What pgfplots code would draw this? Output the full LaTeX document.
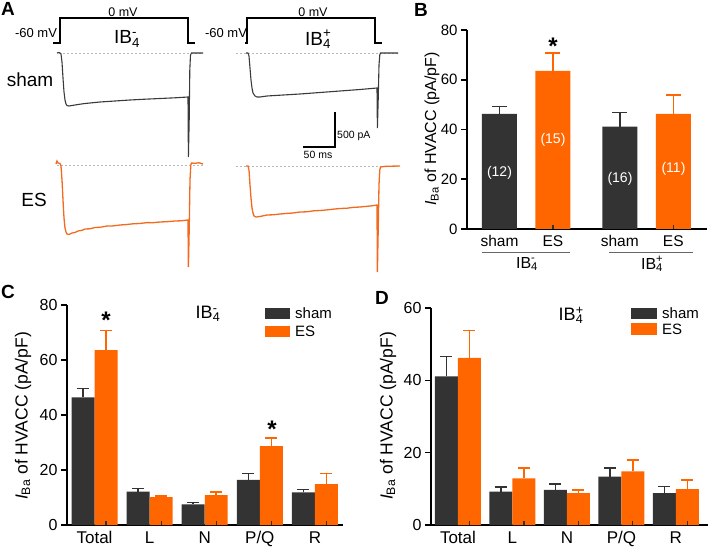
\documentclass[border=0pt]{standalone}
\usepackage{fontspec}
\setmainfont{Liberation Sans}
\usepackage{pgfplots}
\usepackage{pgfplotstable}
\pgfplotsset{compat=1.18}
\definecolor{shamc}{HTML}{333333}
\definecolor{esc}{HTML}{FF6600}
\definecolor{trsham}{HTML}{3A3A3A}
\definecolor{tres}{HTML}{F36A1E}
\newcommand{\fs}[1]{\fontsize{#1bp}{#1bp}\selectfont}
\newcommand{\IB}[1]{IB\rlap{\textsuperscript{#1}}\textsubscript{4}}
\newcommand{\IBa}{\textit{I}\textsubscript{Ba} of HVACC (pA/pF)}

% Panel C data: group index, mean, SEM
\pgfplotstableread{
x m e
0 46.4 3.3
1 12.1 1.2
2 7.5 0.7
3 16.4 2.4
4 11.9 1.0
}\Csham
\pgfplotstableread{
x m e
0 63.6 7.1
1 10.1 0.4
2 10.9 1.2
3 28.7 3.0
4 14.9 3.9
}\Ces
% Panel D data
\pgfplotstableread{
x m e
0 41.1 5.5
1 9.2 1.3
2 9.7 1.6
3 13.4 2.3
4 8.8 1.8
}\Dsham
\pgfplotstableread{
x m e
0 46.2 7.6
1 12.9 2.8
2 8.8 0.9
3 14.8 3.2
4 9.9 2.6
}\Des

\pgfplotsset{
  barax/.style={scale only axis, clip=false, axis lines=left,
    axis line style={-, line width=1.6bp, black}, ymin=0,
    tick align=outside, major tick length=6bp,
    /pgf/number format/assume math mode=true,
    yticklabel style={font=\fs{15}},
    ytick style={line width=1.6bp, black},
    x tick style={draw=none}},
  shambar/.style={ybar, bar width=#1, fill=shamc, draw=none,
    error bars/.cd, y dir=plus, y explicit,
    error bar style={shamc, line width=1.6bp},
    error mark options={shamc, rotate=90, line width=1.6bp, mark size=6bp}},
  esbar/.style={ybar, bar width=#1, fill=esc, draw=none,
    error bars/.cd, y dir=plus, y explicit,
    error bar style={esc, line width=1.6bp},
    error mark options={esc, rotate=90, line width=1.6bp, mark size=6bp}},
}

\begin{document}
\begin{tikzpicture}
\useasboundingbox (0bp,0bp) rectangle (709bp,549bp);

% ---------------- Panel A (traces, pixel-like units) ----------------
\begin{axis}[at={(0bp,269bp)}, anchor=south west, scale only axis,
  width=400bp, height=280bp, xmin=0, xmax=400, ymin=0, ymax=280,
  y dir=reverse, hide axis, clip=false]
% dashed baselines
\addplot[gray!55, line width=0.8bp, dash pattern=on 2bp off 2bp] coordinates {(59,53) (203,53)};
\addplot[gray!55, line width=0.8bp, dash pattern=on 2bp off 2bp] coordinates {(236,53) (400,53)};
\addplot[gray!55, line width=0.8bp, dash pattern=on 2bp off 2bp] coordinates {(57,165) (203,165)};
\addplot[gray!55, line width=0.8bp, dash pattern=on 2bp off 2bp] coordinates {(236,166) (400,166)};
% voltage protocols
\addplot[black, line width=1.2bp] coordinates {(53,43) (60,43) (60,18) (188,18) (188,43) (195,43)};
\addplot[black, line width=1.2bp] coordinates {(245,43) (247,43) (247,18) (375,18) (375,43) (382,43)};
% sham IB4-
\addplot[trsham, line width=1.1bp] coordinates {
(57,53) (59,52.5) (60,53) (61,54) (62,62) (63,78) (64,92) (65,100) (66,104)
(67,105.5) (69,106) (72,105.5) (78,104.5) (85,103.5) (100,102) (115,101)
(130,100) (145,99.2) (160,98.5) (175,97.8) (188,97) (188.4,157) (189.2,120)
(189.8,70) (190.5,55) (191.5,53) (203,53)};
% sham IB4+
\addplot[trsham, line width=1.1bp] coordinates {
(246,53) (248,53) (249,56) (250,68) (251,80) (252,88) (253,93) (255,96)
(257,97) (260,97) (267,96) (280,95.2) (300,94) (320,92.5) (340,91) (360,89.5)
(377,88) (377.4,128) (378.2,100) (379,65) (379.8,55) (380.5,53) (398,53)};
% ES IB4-
\addplot[tres, line width=1.3bp] coordinates {
(56,164) (57,161) (58,163) (60,163.5) (61,166) (62,180) (63,200) (64,218)
(65,228) (66,232) (67,234) (69,234.5) (72,233) (75,232.5) (78,231) (82,230.3)
(85,229) (90,228.8) (95,227.5) (100,227.3) (107,226) (113,225.9) (120,225)
(126,224.6) (133,223.8) (140,223.5) (147,222.6) (153,222.7) (160,222) (167,221.7)
(175,221) (181,220.8) (188,220) (188.4,267) (189.2,230) (190,180) (190.8,165)
(191.5,163) (195,163.3) (199,162.8) (203,164)};
% ES IB4+
\addplot[tres, line width=1.3bp] coordinates {
(246,166) (248,166) (249,170) (250,185) (251,198) (252,208) (253,213) (254,216)
(256,217) (260,216.5) (267,215) (273,214.8) (280,214) (287,213.4) (293,213)
(300,212) (307,211.8) (313,210.9) (320,210.5) (327,209.9) (333,209.2) (340,208.5)
(347,208.2) (353,207.4) (360,207) (367,206.3) (372,205.8) (377,205) (377.4,272)
(378.2,230) (379,185) (379.8,170) (380.5,167) (385,166.4) (390,166.2) (400,166)};
% scale bar
\addplot[black, line width=1.2bp] coordinates {(335,112) (335,147) (303,147)};
\end{axis}

% ---------------- Panel B ----------------
\begin{axis}[barax, at={(467bp,320bp)}, anchor=south west,
  width=240bp, height=199bp, xmin=-0.607, xmax=3.88, ymax=80,
  ytick={0,20,40,60,80},
  xtick={0,1,2.25,3.25}, xticklabels={sham,ES,sham,ES},
  xticklabel style={font=\fs{15.5}, yshift=3bp}]
\addplot[shambar=0.654, error mark options={shamc, rotate=90, line width=1.6bp, mark size=7.5bp}] table[x=x, y=m, y error=e] {
x m e
0 46.3 2.9
2.25 41.2 5.6
};
\addplot[esbar=0.654, error mark options={esc, rotate=90, line width=1.6bp, mark size=7.5bp}] table[x=x, y=m, y error=e] {
x m e
1 63.6 7.1
3.25 46.3 7.6
};
\pgfplotsinvokeforeach{0,1,2.25,3.25}{\draw[shamc, line width=1.2bp] (axis cs:#1,0) -- ([yshift=4bp]axis cs:#1,0);}
\end{axis}

% ---------------- Panel C ----------------
\begin{axis}[barax, at={(67bp,24bp)}, anchor=south west,
  width=276bp, height=220bp, xmin=-0.5, xmax=4.51, ymax=80,
  ytick={0,20,40,60,80}, yticklabel style={font=\fs{16}},
  xtick={0,1,2,3,4}, xticklabels={Total,L,N,P/Q,R},
  xticklabel style={font=\fs{17}, yshift=3bp}]
\addplot[shambar=0.417] table[x expr=\thisrow{x}-0.209, y=m, y error=e] {\Csham};
\addplot[esbar=0.417] table[x expr=\thisrow{x}+0.209, y=m, y error=e] {\Ces};
\pgfplotsinvokeforeach{-0.209,0.209,0.791,1.209,1.791,2.209,2.791,3.209,3.791,4.209}{\draw[shamc, line width=1.2bp] (axis cs:#1,0) -- ([yshift=4bp]axis cs:#1,0);}
\end{axis}

% ---------------- Panel D ----------------
\begin{axis}[barax, at={(431bp,24bp)}, anchor=south west,
  width=277bp, height=217bp, xmin=-0.495, xmax=4.59, ymax=60,
  ytick={0,20,40,60}, yticklabel style={font=\fs{16}},
  xtick={0,1,2,3,4}, xticklabels={Total,L,N,P/Q,R},
  xticklabel style={font=\fs{17}, yshift=3bp}]
\addplot[shambar=0.422] table[x expr=\thisrow{x}-0.211, y=m, y error=e] {\Dsham};
\addplot[esbar=0.422] table[x expr=\thisrow{x}+0.211, y=m, y error=e] {\Des};
\pgfplotsinvokeforeach{-0.211,0.211,0.789,1.211,1.789,2.211,2.789,3.211,3.789,4.211}{\draw[shamc, line width=1.2bp] (axis cs:#1,0) -- ([yshift=4bp]axis cs:#1,0);}
\end{axis}

% ---------------- Annotations (pixel coordinates, y downward) ----------------
\begin{scope}[x=1bp, y=-1bp, shift={(0,-549)}]
% panel letters
\node[inner sep=0, font=\fs{19}\bfseries] at (8,9) {A};
\node[inner sep=0, font=\fs{19}\bfseries] at (421,10) {B};
\node[inner sep=0, font=\fs{19}\bfseries] at (8,292) {C};
\node[inner sep=0, font=\fs{19}\bfseries] at (382,298) {D};
% panel A texts
\node[inner sep=0, font=\fs{12.5}] at (123,12) {0 mV};
\node[inner sep=0, font=\fs{12.5}] at (313,12) {0 mV};
\node[inner sep=0, font=\fs{13}] at (36,33) {-60 mV};
\node[inner sep=0, font=\fs{13}] at (226,33) {-60 mV};
\node[inner sep=0, font=\fs{19}] at (127,39) {\IB{-}};
\node[inner sep=0, font=\fs{19}] at (318,39) {\IB{+}};
\node[inner sep=0, font=\fs{19}] at (30,80) {sham};
\node[inner sep=0, font=\fs{19}] at (34,200) {ES};
\node[inner sep=0, anchor=west, font=\fs{10.5}] at (337,136) {500 pA};
\node[inner sep=0, font=\fs{10.5}] at (318,155) {50 ms};
% panel B texts
\node[rotate=90, inner sep=0, font=\fs{16}] at (432,129) {\IBa};
\node[inner sep=0, white, font=\fs{14}] at (499.5,172.7) {(12)};
\node[inner sep=0, white, font=\fs{14}] at (553,140) {(15)};
\node[inner sep=0, white, font=\fs{14}] at (620,179) {(16)};
\node[inner sep=0, white, font=\fs{14}] at (673.5,169.3) {(11)};
\node[inner sep=0, anchor=north, font=\fs{24}\bfseries] at (553,38) {*};
\draw[gray!80!black, line width=1bp] (482,253) -- (570,253);
\draw[gray!80!black, line width=1bp] (609,253) -- (693,253);
\node[inner sep=0, font=\fs{16}] at (527,264) {\IB{-}};
\node[inner sep=0, font=\fs{16}] at (652,264) {\IB{+}};
% panel C texts
\node[rotate=90, inner sep=0, font=\fs{17.5}] at (23,416) {\IBa};
\node[inner sep=0, font=\fs{18}] at (208,314) {\IB{-}};
\node[inner sep=0, anchor=north, font=\fs{24}\bfseries] at (106,312) {*};
\node[inner sep=0, anchor=north, font=\fs{24}\bfseries] at (272,421) {*};
\fill[shamc] (265,308) rectangle (290,319);
\fill[esc] (265,326) rectangle (290,337);
\node[inner sep=0, anchor=west, font=\fs{15}] at (295,313.5) {sham};
\node[inner sep=0, anchor=west, font=\fs{15}] at (295,331.5) {ES};
% panel D texts
\node[rotate=90, inner sep=0, font=\fs{17.5}] at (388,416) {\IBa};
\node[inner sep=0, font=\fs{18}] at (571,315) {\IB{+}};
\fill[shamc] (631,308) rectangle (657,319);
\fill[esc] (631,323) rectangle (657,335);
\node[inner sep=0, anchor=west, font=\fs{15}] at (662,313.5) {sham};
\node[inner sep=0, anchor=west, font=\fs{15}] at (662,329) {ES};
\end{scope}
\end{tikzpicture}
\end{document}
